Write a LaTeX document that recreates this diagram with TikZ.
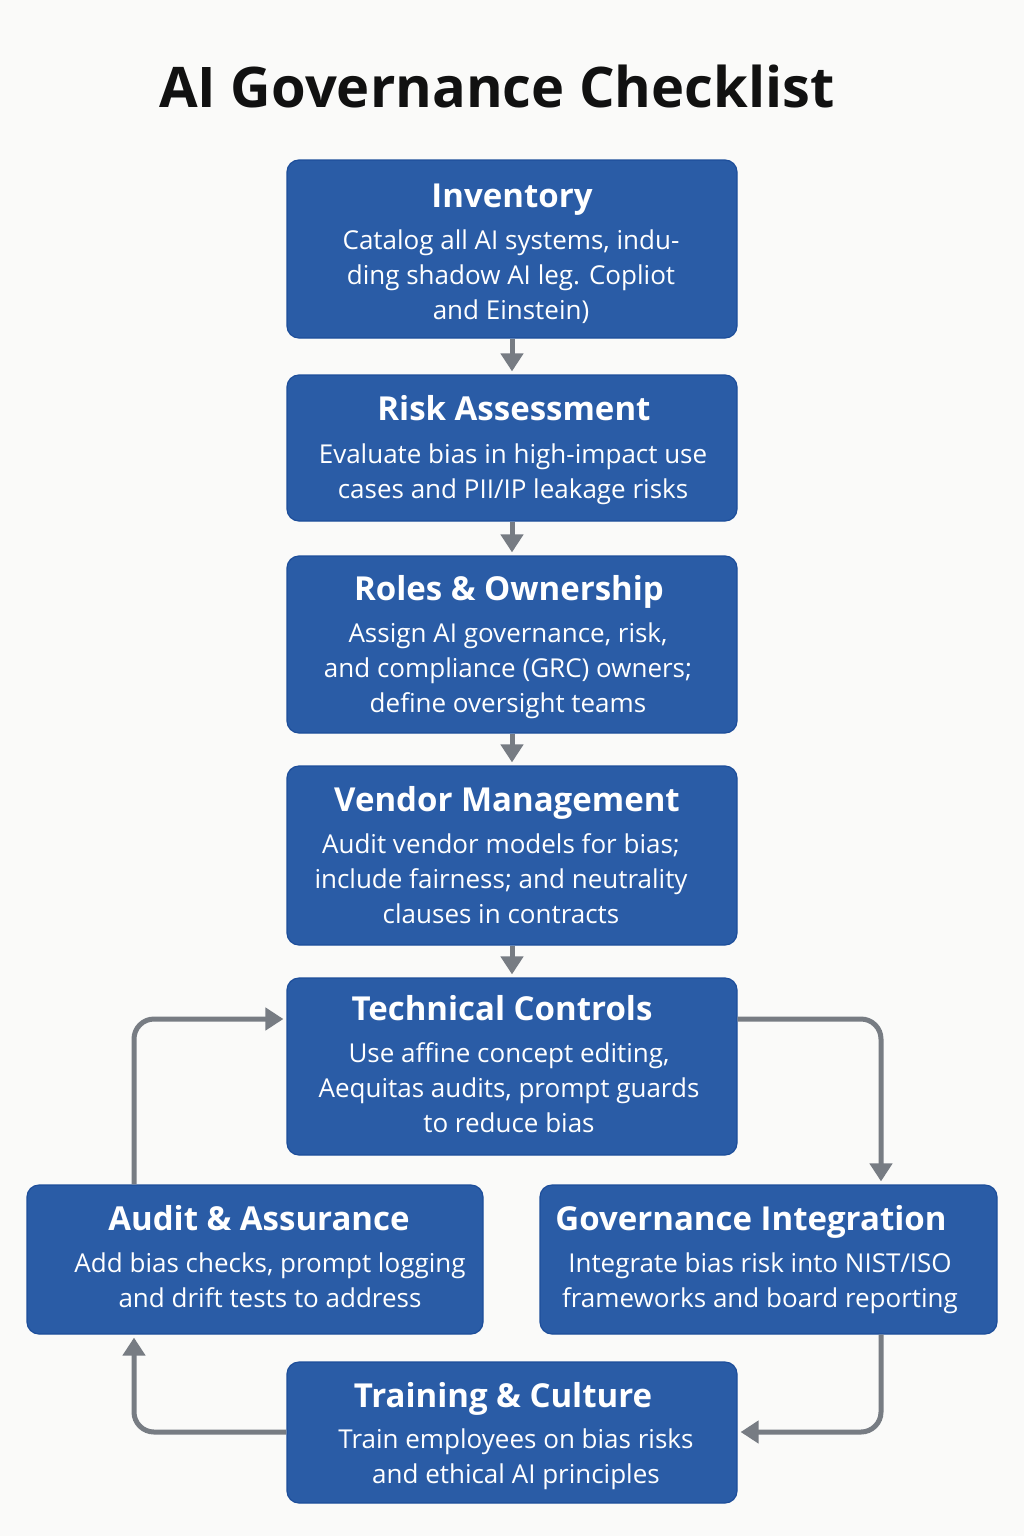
\documentclass[tikz,border=0pt]{standalone}
\usepackage{fontspec}
\setmainfont{Open Sans}
\usetikzlibrary{arrows.meta}
\definecolor{boxblue}{HTML}{2A5CA6}
\definecolor{boxedge}{HTML}{1D4E9B}
\definecolor{arrowgray}{HTML}{777C83}
\definecolor{bgc}{HTML}{FAFAF9}
\definecolor{titlec}{HTML}{111111}
\begin{document}
\begin{tikzpicture}[x=1pt,y=-1pt,
  card/.style={draw=boxedge, line width=1.2pt, fill=boxblue, rounded corners=12pt, inner sep=0pt},
  ctitle/.style={anchor=base, text=white, inner sep=0pt, font=\fontsize{33}{40}\selectfont\bfseries},
  cbody/.style={anchor=base, text=white, inner sep=0pt, align=center, font=\fontsize{26}{35}\selectfont},
  flow/.style={draw=arrowgray, line width=5pt, -{Triangle[width=22pt,length=18pt]}, shorten >=3pt},
  loopflow/.style={flow, rounded corners=20pt}]
\fill[bgc] (0,0) rectangle (1024,1536);
\useasboundingbox (0,0) rectangle (1024,1536);

\node[anchor=base, text=titlec, inner sep=0pt, font=\fontsize{56}{66}\selectfont\bfseries] (title) at (497,108) {AI Governance Checklist};

% boxes
\node[card, minimum width=450pt, minimum height=178pt] (inv) at (512,249) {};
\node[card, minimum width=450pt, minimum height=146pt] (risk) at (512,448) {};
\node[card, minimum width=450pt, minimum height=177pt] (roles) at (512,644.5) {};
\node[card, minimum width=450pt, minimum height=179pt] (vend) at (512,855.5) {};
\node[card, minimum width=450pt, minimum height=177pt] (tech) at (512,1066.5) {};
\node[card, minimum width=456pt, minimum height=149pt] (aud) at (255,1259.5) {};
\node[card, minimum width=457pt, minimum height=149pt] (gov) at (768.5,1259.5) {};
\node[card, minimum width=450pt, minimum height=141pt] (train) at (512,1432.5) {};

% texts (body anchor = baseline of last line)
\node[ctitle] (invT) at (512,207) {Inventory};
\node[cbody] (invB) at (511,319) {Catalog all AI systems, indu-\\ding shadow AI leg. Copliot\\and Einstein)};
\node[ctitle] (riskT) at (514,420) {Risk Assessment};
\node[cbody] (riskB) at (513,498) {Evaluate bias in high-impact use\\cases and PII/IP leakage risks};
\node[ctitle] (rolesT) at (509,600) {Roles \& Ownership};
\node[cbody] (rolesB) at (508,712) {Assign AI governance, risk,\\and compliance (GRC) owners;\\define oversight teams};
\node[ctitle] (vendT) at (507,811) {Vendor Management};
\node[cbody] (vendB) at (501,923) {Audit vendor models for bias;\\include fairness; and neutrality\\clauses in contracts};
\node[ctitle] (techT) at (502,1020) {Technical Controls};
\node[cbody] (techB) at (509,1132) {Use affine concept editing,\\Aequitas audits, prompt guards\\to reduce bias};
\node[ctitle] (audT) at (259,1230) {Audit \& Assurance};
\node[cbody] (audB) at (270,1307) {Add bias checks, prompt logging\\and drift tests to address};
\node[ctitle] (govT) at (751,1230) {Governance Integration};
\node[cbody] (govB) at (760,1307) {Integrate bias risk into NIST/ISO\\frameworks and board reporting};
\node[ctitle] (trainT) at (503,1407) {Training \& Culture};
\node[cbody] (trainB) at (516,1483) {Train employees on bias risks\\and ethical AI principles};

% straight arrows
\draw[flow] (inv.south) -- (risk.north);
\draw[flow] (risk.south) -- (roles.north);
\draw[flow] (roles.south) -- (vend.north);
\draw[flow] (vend.south) -- (tech.north);

% loop
\coordinate (lx) at (134,0);
\coordinate (rx) at (881,0);
\coordinate (ty) at (0,1019);
\coordinate (by) at (0,1432);
\draw[loopflow] (lx |- aud.north) -- (lx |- ty) -- (tech.west |- ty);
\draw[loopflow] (tech.east |- ty) -- (rx |- ty) -- (rx |- gov.north);
\draw[loopflow] (rx |- gov.south) -- (rx |- by) -- (train.east |- by);
\draw[loopflow] (train.west |- by) -- (lx |- by) -- (lx |- aud.south);
\end{tikzpicture}
\end{document}
